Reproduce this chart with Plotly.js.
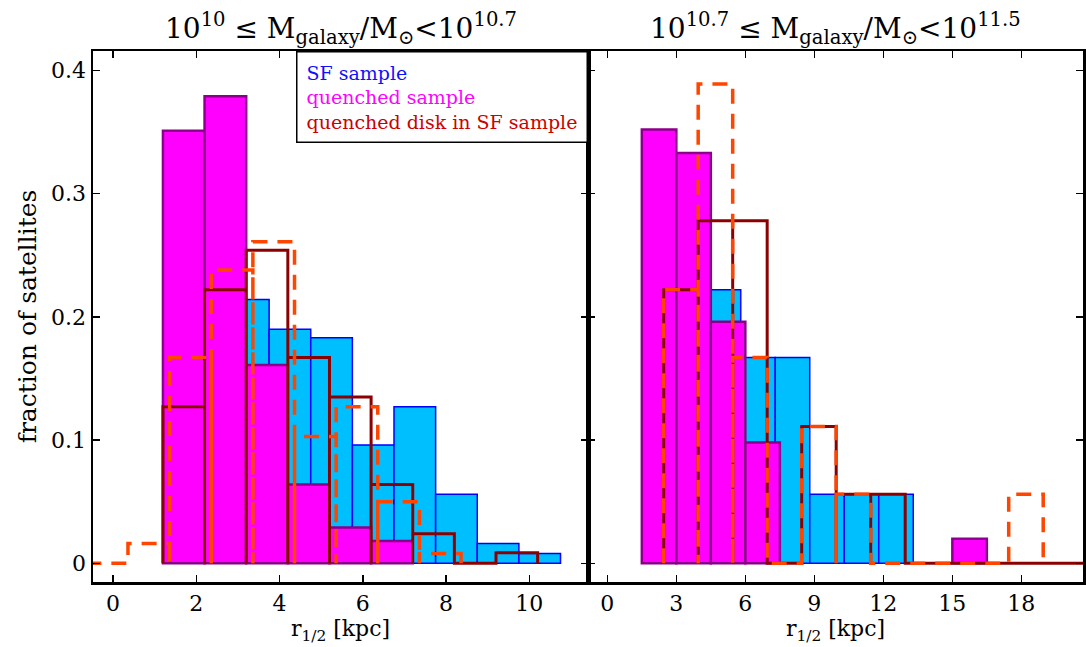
<!DOCTYPE html>
<html>
<head>
<meta charset="utf-8">
<script src="https://cdn.plot.ly/plotly-3.0.1.min.js"></script>
<style>html,body{margin:0;padding:0;background:#fff;}#chart{width:1086px;height:647px;}</style>
</head>
<body>
<div id="chart"></div>
<script>
// ---------- DATA ----------
// Left panel: 10^10 <= M < 10^10.7  (bin width 1 kpc)
var leftBinWidth = 1.0;
var leftSFStart = 1.75;
var leftSF = [0.111, 0.214, 0.190, 0.183, 0.096, 0.127, 0.056, 0.016, 0.008];
var leftQStart = 1.2;
var leftQ = [0.351, 0.379, 0.161, 0.064, 0.029, 0.018];
var leftQDiskStart = 1.2;
var leftQDisk = [0.127, 0.222, 0.254, 0.167, 0.135, 0.064, 0.024, 0.0, 0.0086];
var leftDashStart = -0.64;
var leftDash = [0.0, 0.016, 0.167, 0.238, 0.261, 0.103, 0.127, 0.050, 0.008];

// Right panel: 10^10.7 <= M < 10^11.5  (bin width 1.5 kpc)
var rightBinWidth = 1.5;
var rightSFStart = 1.3;
var rightSF = [0.0, 0.276, 0.222, 0.167, 0.167, 0.056, 0.056, 0.056];
var rightQStart = 1.5;
var rightQ = [0.352, 0.333, 0.196, 0.098, 0, 0, 0, 0, 0, 0.020];
var rightQDiskStart = 2.45;
var rightQDisk = [0.222, 0.278, 0.278, 0.0, 0.111, 0.056, 0.056, 0, 0, 0, 0, 0, 0, 0];
var rightDashStart = 2.45;
var rightDash = [0.222, 0.389, 0.167, 0.0, 0.111, 0.056, 0, 0, 0, 0, 0.056];

var legendLabels = ["SF sample", "quenched sample", "quenched disk in SF sample"];
var panelTitles = ["10<sup>10</sup> \u2264 M<sub>galaxy</sub>/M<sub>\u2299</sub><10<sup>10.7</sup>",
                   "10<sup>10.7</sup> \u2264 M<sub>galaxy</sub>/M<sub>\u2299</sub><10<sup>11.5</sup>"];
var xTitle = "r<sub>1/2</sub> [kpc]";
var yTitle = "fraction of satellites";

// ---------- HELPERS ----------
function barTrace(start, w, vals, fill, edge, ew, xa, ya) {
  var x = [], y = [], wd = [];
  for (var i = 0; i < vals.length; i++) {
    if (vals[i] > 0) { x.push(start + (i + 0.5) * w); y.push(vals[i]); wd.push(w); }
  }
  return {type: 'bar', x: x, y: y, width: wd, xaxis: xa, yaxis: ya,
    marker: {color: fill, line: {color: edge, width: ew}}, showlegend: false, hoverinfo: 'skip'};
}
function stepTrace(start, w, vals, color, width, dash, xa, ya) {
  var x = [], y = [];
  for (var i = 0; i < vals.length; i++) {
    var e0 = start + i * w, e1 = e0 + w;
    x.push(e0, e0, e1, e1); y.push(0, vals[i], vals[i], 0);
  }
  return {type: 'scatter', mode: 'lines', x: x, y: y, xaxis: xa, yaxis: ya,
    line: {color: color, width: width, dash: dash}, showlegend: false, hoverinfo: 'skip'};
}

var SFfill = '#00bfff', SFedge = '#0000ff';
var Qfill = '#ff00ff', Qedge = '#8b008b';
var diskCol = '#8b0000', dashCol = '#ff4500';
var dashPat = '15px,10px';

var traces = [
  barTrace(leftSFStart, leftBinWidth, leftSF, SFfill, SFedge, 1.5, 'x', 'y'),
  barTrace(leftQStart, leftBinWidth, leftQ, Qfill, Qedge, 2.5, 'x', 'y'),
  stepTrace(leftQDiskStart, leftBinWidth, leftQDisk, diskCol, 3, 'solid', 'x', 'y'),
  stepTrace(leftDashStart, leftBinWidth, leftDash, dashCol, 3.5, dashPat, 'x', 'y'),
  barTrace(rightSFStart, rightBinWidth, rightSF, SFfill, SFedge, 1.5, 'x2', 'y2'),
  barTrace(rightQStart, rightBinWidth, rightQ, Qfill, Qedge, 2.5, 'x2', 'y2'),
  stepTrace(rightQDiskStart, rightBinWidth, rightQDisk, diskCol, 3, 'solid', 'x2', 'y2'),
  stepTrace(rightDashStart, rightBinWidth, rightDash, dashCol, 3.5, dashPat, 'x2', 'y2')
];

var fontFam = 'DejaVu Serif';
var axBase = {showline: true, linecolor: '#000', linewidth: 2.5, mirror: 'ticks',
  ticks: 'inside', ticklen: 7, tickwidth: 1.5, tickcolor: '#000',
  showgrid: false, zeroline: false, tickfont: {family: fontFam, size: 22, color: '#000'}};

function ext(o, extra) { var r = {}; for (var k in o) r[k] = o[k]; for (var k2 in extra) r[k2] = extra[k2]; return r; }

var layout = {
  width: 1086, height: 647,
  margin: {l: 93, r: 3, t: 51, b: 65},
  paper_bgcolor: '#fff', plot_bgcolor: '#fff',
  barmode: 'overlay', bargap: 0,
  font: {family: fontFam, color: '#000', size: 20},
  xaxis: ext(axBase, {domain: [0, 0.5], range: [-0.48, 11.41], dtick: 2, tick0: 0, anchor: 'y',
    title: {text: xTitle, font: {family: fontFam, size: 22, color: '#000'}, standoff: 6}}),
  xaxis2: ext(axBase, {domain: [0.5, 1], range: [-0.84, 20.68], dtick: 3, tick0: 0, anchor: 'y2',
    title: {text: xTitle, font: {family: fontFam, size: 22, color: '#000'}, standoff: 6}}),
  yaxis: ext(axBase, {range: [-0.0152, 0.4158], dtick: 0.1, tick0: 0, anchor: 'x',
    title: {text: yTitle, font: {family: fontFam, size: 25, color: '#000'}, standoff: 8}}),
  yaxis2: ext(axBase, {range: [-0.0152, 0.4158], dtick: 0.1, tick0: 0, anchor: 'x2', showticklabels: false}),
  annotations: [
    {xref: 'paper', yref: 'paper', x: 0.25, y: 1.043, xanchor: 'center', yanchor: 'middle',
     text: panelTitles[0], showarrow: false, font: {family: fontFam, size: 28, color: '#000'}},
    {xref: 'paper', yref: 'paper', x: 0.75, y: 1.043, xanchor: 'center', yanchor: 'middle',
     text: panelTitles[1], showarrow: false, font: {family: fontFam, size: 28, color: '#000'}},
    {xref: 'paper', yref: 'paper', x: 0.5, y: 1, xanchor: 'right', yanchor: 'top', align: 'left',
     text: '<span style="color:#1010ff">' + legendLabels[0] + '</span><br>' +
           '<span style="color:#ff00ff">' + legendLabels[1] + '</span><br>' +
           '<span style="color:#cc0000">' + legendLabels[2] + '</span>',
     showarrow: false, bgcolor: '#fff', bordercolor: '#000', borderwidth: 1.5, borderpad: 9,
     font: {family: fontFam, size: 19, color: '#000'}}
  ]
};

Plotly.newPlot('chart', traces, layout, {displayModeBar: false, staticPlot: true});
</script>
</body>
</html>
